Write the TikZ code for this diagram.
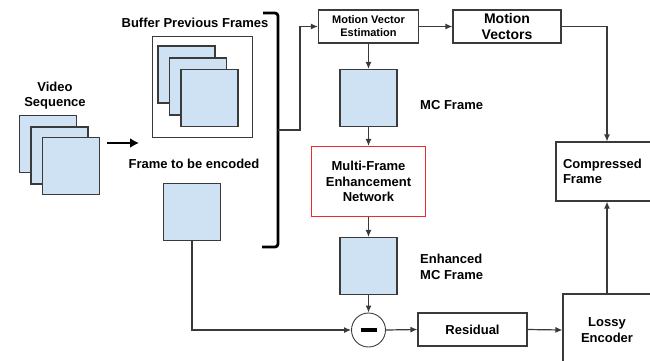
\documentclass[tikz,border=0pt]{standalone}
\usepackage{fontspec}
\setmainfont{Liberation Sans}
\usetikzlibrary{positioning,arrows.meta}
\definecolor{frmblue}{HTML}{CFE2F3}
\definecolor{edge}{HTML}{3A3A3A}
\definecolor{redbox}{HTML}{EE2A2A}
\newcommand{\fnode}[2]{\node [frm] (#1) at (#2) {}}

\begin{document}
\begin{tikzpicture}[x=1pt,y=-1pt,
  frm/.style={draw=edge, fill=frmblue, line width=1.1pt, minimum size=57pt, inner sep=0pt},
  blk/.style={draw=edge, line width=1.1pt, align=center, inner sep=0pt,
    font=\bfseries\fontsize{13}{15.5}\selectfont},
  lbl/.style={align=left, inner sep=0pt, font=\bfseries\fontsize{13}{15.5}\selectfont},
  con/.style={-{Latex[length=7pt,width=6pt]}, line width=1.2pt, draw=edge},
]
\clip (0,0) rectangle (650,360);

% video sequence
\node [lbl, align=center] (VSL) at (55,95.5) {Video\\Sequence};
\fnode{VS1}{48,144};
\fnode{VS2}{59.5,155.5};
\fnode{VS3}{71,166};

\coordinate (A1) at (107,143);
\coordinate (A2) at (139,143);
\draw[-{Latex[length=9pt,width=10pt]}, line width=2.6pt] (A1) -- (A2);

% buffer
\node [lbl] (BUFL) at (195,23) {Buffer Previous Frames};
\node [draw=edge, line width=0.8pt, minimum width=100pt, minimum height=101pt] (BUF) at (202,86.5) {};
\fnode{BF1}{186.5,74.5};
\fnode{BF2}{198,86.5};
\fnode{BF3}{209.5,98};

% frame to be encoded
\node [lbl] (ENCL) at (194,163.5) {Frame to be encoded};
\fnode{ENC}{192,212};

% bracket
\draw[line width=2.8pt, rounded corners=3pt] (263,13) -- (278,13) -- (278,247) -- (262,247);
\coordinate (BRK) at (278,130);

% motion estimation
\node [blk, minimum width=100pt, minimum height=33pt, font=\bfseries\fontsize{11}{13}\selectfont] (MVE) at (368.5,26.5) {Motion Vector\\Estimation};
\node [blk, minimum width=108pt, minimum height=33pt, font=\bfseries\fontsize{14}{16}\selectfont] (MV) at (507,26.5) {Motion\\Vectors};

\fnode{MC}{368.5,98};
\node [lbl, anchor=west] (MCL) at (420,105) {MC Frame};

\node [blk, draw=redbox, minimum width=114pt, minimum height=70pt] (MFE) at (368.5,181.5) {Multi-Frame\\Enhancement\\Network};

\fnode{EMC}{368.5,266};
\node [lbl, anchor=west] (EMCL) at (420,267) {Enhanced\\MC Frame};

\node [circle, draw=edge, line width=0.9pt, minimum size=34pt, inner sep=0pt] (SUB) at (368.5,330) {\rule{16pt}{4.5pt}};

\node [blk, minimum width=109pt, minimum height=33pt] (RES) at (472.5,329.5) {Residual};
\node [blk, minimum width=88pt, minimum height=72pt] (LE) at (607,330) {Lossy\\Encoder};
\node [blk, align=left, minimum width=102pt, minimum height=59pt, text width=88pt, inner xsep=7pt] (CF) at (607,171.5) {Compressed\\Frame};

% connectors
\draw[con] (BRK) -- ++(22,0) |- (MVE.west);
\draw[con] (MVE.east) -- (MV.west);
\draw[con] (MV.east) -| (CF.north);
\draw[con] (MVE.south) -- (MC.north);
\draw[con] (MC.south) -- (MFE.north);
\draw[con] (MFE.south) -- (EMC.north);
\draw[con] (EMC.south) -- (SUB.north);
\draw[con] (ENC.south) |- (SUB.west);
\draw[con] (SUB.east) -- (RES.west);
\draw[con] (RES.east) -- (LE.west);
\draw[con] (LE.north) -- (CF.south);

\end{tikzpicture}
\end{document}
